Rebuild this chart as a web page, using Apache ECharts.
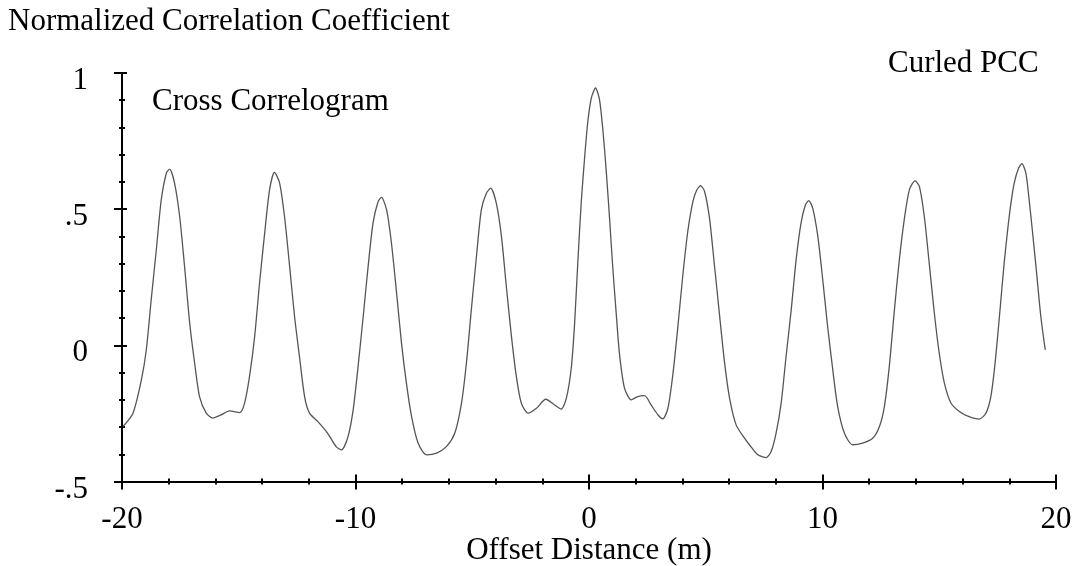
<!DOCTYPE html>
<html>
<head>
<meta charset="utf-8">
<script src="https://cdn.jsdelivr.net/npm/echarts@6/dist/echarts.min.js"></script>
<style>
html,body{margin:0;padding:0;background:#fff;}
#chart{width:1077px;height:566px;}
</style>
</head>
<body>
<div id="chart"></div>
<script>
// Offset distance (m)
var offsets = [
-19.96,-19.53,-19.17,-18.96,-18.75,-18.53,-18.32,-18.10,-17.96,-17.75,-17.53,-17.32,-17.10,-16.89,-16.68,-16.39,-16.11,-15.75,-15.39,-14.96,
-14.75,-14.54,-14.32,-14.11,-13.89,-13.68,-13.47,-13.25,-13.04,-12.82,-12.61,-12.40,-12.18,-11.97,-11.61,-11.19,-10.83,-10.60,-10.32,-10.10,
-9.89,-9.67,-9.46,-9.25,-9.03,-8.89,-8.67,-8.46,-8.24,-8.03,-7.82,-7.60,-7.32,-6.96,-6.53,-6.11,-5.75,-5.46,-5.25,-5.04,
-4.82,-4.61,-4.39,-4.21,-3.97,-3.75,-3.54,-3.32,-3.11,-2.90,-2.61,-2.25,-1.85,-1.47,-1.19,-0.97,-0.76,-0.62,-0.47,-0.33,
-0.19,-0.05,0.10,0.28,0.45,0.60,0.74,0.88,1.02,1.17,1.31,1.52,1.81,2.09,2.38,2.66,2.95,3.16,3.38,3.59,
3.80,4.02,4.23,4.45,4.62,4.78,4.95,5.16,5.37,5.59,5.80,6.02,6.30,6.66,6.87,7.23,7.59,7.80,8.01,8.23,
8.44,8.66,8.87,9.08,9.27,9.41,9.58,9.80,10.01,10.22,10.44,10.65,10.94,11.29,11.72,12.15,12.44,12.65,12.86,13.08,
13.29,13.50,13.72,13.96,14.15,14.36,14.57,14.79,15.00,15.22,15.50,15.86,16.25,16.71,17.00,17.21,17.36,17.50,17.64,17.78,
17.93,18.07,18.21,18.40,18.54,18.71,18.85,19.00,19.17,19.35,19.54
];
// Normalized correlation coefficient
var coefficients = [
-0.298,-0.249,-0.127,-0.017,0.167,0.351,0.534,0.632,0.647,0.596,0.473,0.289,0.081,-0.065,-0.188,-0.249,-0.267,-0.255,-0.241,-0.247,
-0.212,-0.115,0.032,0.228,0.412,0.571,0.635,0.596,0.473,0.289,0.106,-0.041,-0.188,-0.249,-0.280,-0.323,-0.372,-0.384,-0.335,-0.237,
-0.078,0.106,0.289,0.449,0.528,0.543,0.498,0.375,0.192,0.008,-0.139,-0.261,-0.359,-0.402,-0.396,-0.372,-0.323,-0.212,-0.065,0.130,
0.326,0.498,0.559,0.577,0.522,0.400,0.216,0.032,-0.115,-0.212,-0.249,-0.231,-0.198,-0.219,-0.234,-0.194,-0.084,0.075,0.320,0.528,
0.687,0.822,0.908,0.945,0.902,0.785,0.638,0.467,0.283,0.112,-0.035,-0.157,-0.200,-0.188,-0.185,-0.219,-0.255,-0.270,-0.231,-0.108,
0.063,0.259,0.418,0.528,0.571,0.586,0.565,0.467,0.296,0.112,-0.059,-0.194,-0.292,-0.341,-0.365,-0.402,-0.412,-0.390,-0.323,-0.212,
-0.041,0.130,0.314,0.449,0.516,0.531,0.504,0.400,0.241,0.069,-0.090,-0.225,-0.323,-0.365,-0.359,-0.341,-0.298,-0.225,-0.078,0.130,
0.314,0.461,0.571,0.604,0.583,0.473,0.302,0.118,-0.029,-0.139,-0.212,-0.243,-0.261,-0.271,-0.249,-0.188,-0.090,0.032,0.167,0.302,
0.424,0.522,0.596,0.651,0.667,0.632,0.534,0.412,0.265,0.106,-0.017
];
var xTickValues = [-20, -10, 0, 10, 20];
var xTickLabels = ['-20', '-10', '0', '10', '20'];
var yTickValues = [-0.5, 0, 0.5, 1];
var yTickLabels = ['-.5', '0', '.5', '1'];

var FONT = 'Liberation Serif';
var FS = 31;
var pts = offsets.map(function (x, i) { return [x, coefficients[i]]; });

function lab(values, labels) {
  return function (v) {
    for (var i = 0; i < values.length; i++) {
      if (Math.abs(values[i] - v) < 1e-9) return labels[i];
    }
    return '';
  };
}

var chart = echarts.init(document.getElementById('chart'), null, {renderer: 'canvas'});
var axisCommonX = {
  type: 'value', min: -20, max: 20, interval: 10, position: 'bottom',
  splitLine: {show: false}, minorSplitLine: {show: false}
};
var axisCommonY = {
  type: 'value', min: -0.5, max: 1, interval: 0.5, position: 'left',
  splitLine: {show: false}, minorSplitLine: {show: false}
};
var textBase = {fontFamily: FONT, fontSize: FS, fontWeight: 'normal', color: '#000'};
chart.setOption({
  animation: false,
  backgroundColor: '#ffffff',
  title: [
    {text: 'Normalized Correlation Coefficient', left: 8, top: 6, textStyle: textBase, padding: 0},
    {text: 'Cross Correlogram', left: 152, top: 86, textStyle: textBase, padding: 0},
    {text: 'Curled PCC', left: 888, top: 48, textStyle: textBase, padding: 0}
  ],
  grid: {left: 122, top: 73, width: 934, height: 408.5, containLabel: false, outerBoundsMode: 'none'},
  xAxis: [
    Object.assign({}, axisCommonX, {
      name: 'Offset Distance (m)', nameLocation: 'middle', nameGap: 52, nameMoveOverlap: false,
      nameTextStyle: {fontFamily: FONT, fontSize: FS, color: '#000', verticalAlign: 'top', lineHeight: 34},
      axisLine: {show: true, onZero: false, lineStyle: {color: '#000', width: 2}},
      axisTick: {show: true, inside: false, length: 8, lineStyle: {color: '#000', width: 2}},
      minorTick: {show: true, splitNumber: 5, length: 3, lineStyle: {color: '#000', width: 2}},
      axisLabel: {show: true, margin: 23, fontFamily: FONT, fontSize: FS, color: '#000',
                  formatter: lab(xTickValues, xTickLabels)}
    }),
    Object.assign({}, axisCommonX, {
      axisLine: {show: false, onZero: false},
      axisTick: {show: true, inside: true, length: 7, lineStyle: {color: '#000', width: 2}},
      minorTick: {show: true, splitNumber: 5, length: 3, lineStyle: {color: '#000', width: 2}},
      axisLabel: {show: false}
    })
  ],
  yAxis: [
    Object.assign({}, axisCommonY, {
      axisLine: {show: true, onZero: false, lineStyle: {color: '#000', width: 2}},
      axisTick: {show: true, inside: false, length: 8, lineStyle: {color: '#000', width: 2}},
      minorTick: {show: true, splitNumber: 5, length: 3, lineStyle: {color: '#000', width: 2}},
      axisLabel: {show: true, margin: 34, fontFamily: FONT, fontSize: FS, color: '#000',
                  verticalAlign: 'top', lineHeight: 16,
                  formatter: lab(yTickValues, yTickLabels)}
    }),
    Object.assign({}, axisCommonY, {
      axisLine: {show: false, onZero: false},
      axisTick: {show: true, inside: true, length: 5, lineStyle: {color: '#000', width: 2}},
      minorTick: {show: true, splitNumber: 5, length: 3, lineStyle: {color: '#000', width: 2}},
      axisLabel: {show: false}
    })
  ],
  series: [{
    type: 'line',
    xAxisIndex: 0, yAxisIndex: 0,
    data: pts,
    smooth: 0.25,
    showSymbol: false,
    lineStyle: {color: '#555', width: 1.3}
  }]
});
</script>
</body>
</html>
